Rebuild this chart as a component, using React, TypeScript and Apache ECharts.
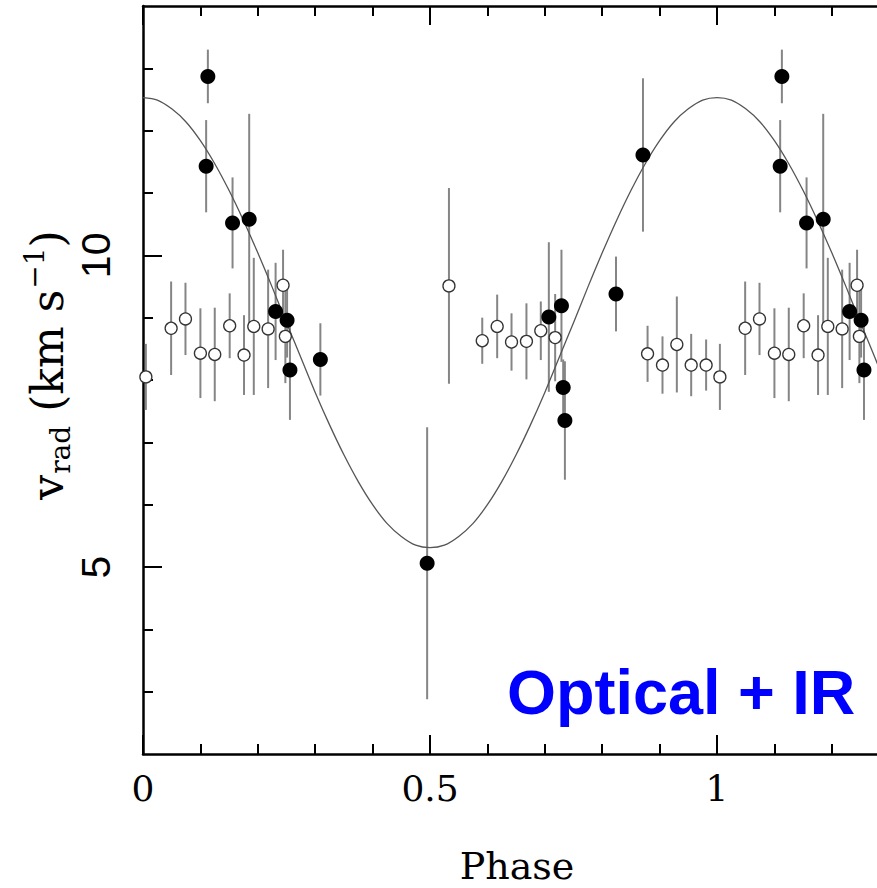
import React, { useEffect, useRef } from "react";
import * as echarts from "echarts";

// Fitted radial-velocity curve, every 0.025 in phase
const curvePhase = [
  0, 0.025, 0.05, 0.075, 0.1, 0.125, 0.15, 0.175, 0.2, 0.225, 0.25, 0.275, 0.3, 0.325, 0.35, 0.375, 0.4, 0.425, 0.45, 0.475,
  0.5, 0.525, 0.55, 0.575, 0.6, 0.625, 0.65, 0.675, 0.7, 0.725, 0.75, 0.775, 0.8, 0.825, 0.85, 0.875, 0.9, 0.925, 0.95, 0.975,
  1.0, 1.025, 1.05, 1.075, 1.1, 1.125, 1.15, 1.175, 1.2, 1.225, 1.25, 1.275, 1.3,
];
const curveVrad = [
  12.53, 12.49, 12.35, 12.14, 11.84, 11.47, 11.04, 10.56, 10.04, 9.49, 8.92, 8.36, 7.8, 7.28, 6.8, 6.37, 6.0, 5.7, 5.49, 5.35,
  5.31, 5.35, 5.49, 5.7, 6.0, 6.37, 6.8, 7.28, 7.8, 8.36, 8.92, 9.49, 10.04, 10.56, 11.04, 11.47, 11.84, 12.14, 12.35, 12.49,
  12.53, 12.49, 12.35, 12.14, 11.84, 11.47, 11.04, 10.56, 10.04, 9.49, 8.92, 8.36, 7.8,
];

// Filled circles
const filledPhase = [0.113, 0.11, 0.156, 0.185, 0.231, 0.251, 0.256, 0.309, 0.495, 0.707, 0.729, 0.732, 0.735, 0.824, 0.871, 1.113, 1.11, 1.156, 1.185, 1.231, 1.251, 1.256];
const filledVrad = [12.87, 11.43, 10.52, 10.58, 9.1, 8.96, 8.16, 8.33, 5.06, 9.01, 9.19, 7.88, 7.35, 9.38, 11.61, 12.87, 11.43, 10.52, 10.58, 9.1, 8.96, 8.16];
const filledErr = [0.43, 0.74, 0.73, 1.69, 0.78, 0.6, 0.8, 0.58, 2.18, 1.2, 0.9, 0.45, 0.95, 0.6, 1.23, 0.43, 0.74, 0.73, 1.69, 0.78, 0.6, 0.8];

// Open circles
const openPhase = [0.005, 0.049, 0.074, 0.1, 0.125, 0.151, 0.176, 0.193, 0.218, 0.244, 0.248, 0.533, 0.591, 0.617, 0.642, 0.668, 0.693, 0.718, 0.879, 0.905, 0.93, 0.955, 0.981, 1.005, 1.049, 1.074, 1.1, 1.125, 1.151, 1.176, 1.193, 1.218, 1.244, 1.248];
const openVrad = [8.05, 8.83, 8.98, 8.43, 8.41, 8.87, 8.4, 8.86, 8.82, 9.52, 8.7, 9.51, 8.63, 8.86, 8.61, 8.62, 8.79, 8.68, 8.42, 8.24, 8.57, 8.24, 8.24, 8.05, 8.83, 8.98, 8.43, 8.41, 8.87, 8.4, 8.86, 8.82, 9.52, 8.7];
const openErr = [0.53, 0.75, 0.58, 0.72, 0.75, 0.52, 0.64, 1.1, 0.95, 0.57, 0.75, 1.57, 0.37, 0.51, 0.46, 0.61, 0.47, 0.7, 0.45, 0.46, 0.77, 0.5, 0.41, 0.53, 0.75, 0.58, 0.72, 0.75, 0.52, 0.64, 1.1, 0.95, 0.57, 0.75];

// Axis ticks and labels
const xMajor = [0, 0.5, 1];
const xMinor = [0.1, 0.2, 0.3, 0.4, 0.6, 0.7, 0.8, 0.9, 1.1, 1.2];
const yMajor = [5, 10];
const yMinor = [3, 4, 6, 7, 8, 9, 11, 12, 13];
const X_MIN = 0;
const X_MAX = 1.2787;
const Y_MIN = 2;
const Y_MAX = 14;

const SERIF = "'DejaVu Serif', 'Liberation Serif', serif";
const SANS = "'Liberation Sans', Arial, sans-serif";

function xAxisDef(position: "top" | "bottom", major: boolean, showLine: boolean, showLabel: boolean) {
  return {
    type: "value",
    position,
    min: X_MIN,
    max: X_MAX,
    splitLine: { show: false },
    axisLine: { show: showLine, onZero: false, lineStyle: { color: "#000", width: 2.5 } },
    axisTick: {
      show: true,
      inside: true,
      length: major ? 19 : 10,
      customValues: major ? xMajor : xMinor,
      lineStyle: { color: "#000", width: 2 },
    },
    axisLabel: {
      show: showLabel,
      customValues: xMajor,
      margin: 16,
      fontFamily: SERIF,
      fontSize: 36,
      color: "#000",
      formatter: (v: number) => String(v),
    },
  };
}

function yAxisDef(major: boolean, showLine: boolean, showLabel: boolean) {
  return {
    type: "value",
    position: "left",
    min: Y_MIN,
    max: Y_MAX,
    splitLine: { show: false },
    axisLine: { show: showLine, onZero: false, lineStyle: { color: "#000", width: 2.5 } },
    axisTick: {
      show: true,
      inside: true,
      length: major ? 19 : 10,
      customValues: major ? yMajor : yMinor,
      lineStyle: { color: "#000", width: 2 },
    },
    axisLabel: {
      show: showLabel,
      customValues: yMajor,
      rotate: 90,
      margin: 27,
      fontFamily: SANS,
      fontSize: 41,
      color: "#000",
      formatter: (v: number) => String(v),
    },
  };
}

function errorBarRender(params: any, api: any) {
  const x = api.value(0);
  const lo = api.coord([x, api.value(1)]);
  const hi = api.coord([x, api.value(2)]);
  return {
    type: "line",
    shape: { x1: lo[0], y1: lo[1], x2: hi[0], y2: hi[1] },
    style: { stroke: "#858585", lineWidth: 2 },
  };
}

export default function App() {
  const ref = useRef<HTMLDivElement>(null);

  useEffect(() => {
    if (!ref.current) return;
    const chart = echarts.init(ref.current, null, { renderer: "svg" });

    const curveData = curvePhase.map((p, i) => [p, curveVrad[i]]);
    const filledData = filledPhase.map((p, i) => [p, filledVrad[i]]);
    const openData = openPhase.map((p, i) => [p, openVrad[i]]);
    const filledBars = filledPhase.map((p, i) => [p, filledVrad[i] - filledErr[i], filledVrad[i] + filledErr[i]]);
    const openBars = openPhase.map((p, i) => [p, openVrad[i] - openErr[i], openVrad[i] + openErr[i]]);

    chart.setOption({
      animation: false,
      backgroundColor: "#fff",
      grid: {
        left: 143,
        right: 0,
        top: 6,
        bottom: 134,
        containLabel: false,
        outerBoundsMode: "none",
      },
      xAxis: [
        xAxisDef("bottom", true, true, true),
        xAxisDef("bottom", false, false, false),
        xAxisDef("top", true, true, false),
        xAxisDef("top", false, false, false),
      ],
      yAxis: [yAxisDef(true, true, true), yAxisDef(false, false, false)],
      graphic: [
        {
          type: "text",
          x: 47,
          y: 365,
          rotation: Math.PI / 2,
          style: {
            text: "{m|v}{sub|rad}{m| (km s}{sup|−1}{m|)}",
            textAlign: "center",
            textVerticalAlign: "middle",
            fill: "#000",
            rich: {
              m: { fontFamily: SERIF, fontSize: 44, fill: "#000" },
              sub: { fontFamily: SERIF, fontSize: 28, fill: "#000", padding: [27, 0, 0, 1] },
              sup: { fontFamily: SERIF, fontSize: 28, fill: "#000", padding: [0, 0, 25, 1] },
            },
          },
        },
        {
          type: "text",
          x: 517,
          y: 866,
          style: {
            text: "Phase",
            textAlign: "center",
            textVerticalAlign: "middle",
            fontFamily: SERIF,
            fontSize: 38,
            fill: "#000",
          },
        },
        {
          type: "text",
          x: 507,
          y: 692,
          style: {
            text: "Optical + IR",
            textAlign: "left",
            textVerticalAlign: "middle",
            fontFamily: SANS,
            fontWeight: "bold",
            fontSize: 63,
            fill: "#0000ff",
          },
        },
      ],
      series: [
        {
          type: "custom",
          name: "open error bars",
          xAxisIndex: 0,
          yAxisIndex: 0,
          renderItem: errorBarRender,
          data: openBars,
          clip: true,
          z: 1,
        },
        {
          type: "custom",
          name: "filled error bars",
          xAxisIndex: 0,
          yAxisIndex: 0,
          renderItem: errorBarRender,
          data: filledBars,
          clip: true,
          z: 1,
        },
        {
          type: "line",
          name: "fit",
          xAxisIndex: 0,
          yAxisIndex: 0,
          data: curveData,
          smooth: 0.3,
          showSymbol: false,
          symbol: "none",
          clip: true,
          lineStyle: { color: "#555", width: 1.3 },
          z: 2,
        },
        {
          type: "scatter",
          name: "open",
          xAxisIndex: 0,
          yAxisIndex: 0,
          data: openData,
          symbol: "circle",
          symbolSize: 12,
          itemStyle: { color: "#fff", borderColor: "#333", borderWidth: 1.3, opacity: 1 },
          z: 3,
        },
        {
          type: "scatter",
          name: "filled",
          xAxisIndex: 0,
          yAxisIndex: 0,
          data: filledData,
          symbol: "circle",
          symbolSize: 15,
          itemStyle: { color: "#000", opacity: 1 },
          z: 4,
        },
      ],
    });

    return () => chart.dispose();
  }, []);

  return (
    <div
      ref={ref}
      style={{ position: "absolute", left: 0, top: 0, width: 877, height: 888, background: "#fff" }}
    />
  );
}
